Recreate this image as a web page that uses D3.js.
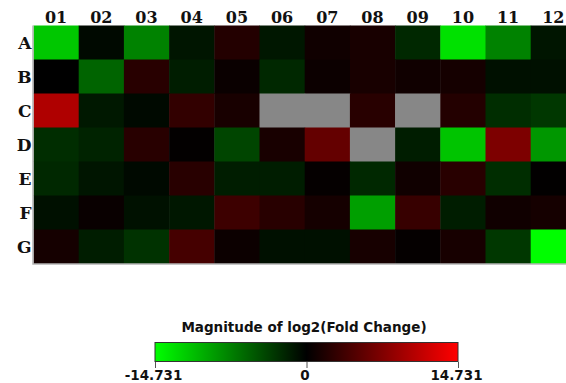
<!DOCTYPE html>
<html>
<head>
<meta charset="utf-8">
<script src="https://cdn.jsdelivr.net/npm/d3@7"></script>
<style>
  body { margin: 0; background: #fff; }
  svg { display: block; }
</style>
</head>
<body>
<div id="chart"></div>
<script>
// Plate layout: rows A-G, columns 01-12
const rows = ['A', 'B', 'C', 'D', 'E', 'F', 'G'];
const cols = ['01', '02', '03', '04', '05', '06', '07', '08', '09', '10', '11', '12'];

// log2(fold change) per well, null = no value (grey)
const rowA = [-11.5, -0.5, -7.5, -1.2, 2.0, -1.3, 0.9, 1.4, -2.3, -13.0, -7.5, -1.2];
const rowB = [0.0, -5.8, 2.3, -1.7, 0.6, -2.3, 0.7, 1.4, 0.9, 1.2, -0.9, -0.9];
const rowC = [10.1, -1.4, -0.5, 2.9, 1.4, null, null, 2.3, null, 2.0, -2.6, -3.2];
const rowD = [-2.6, -2.0, 2.3, 0.2, -4.0, 1.4, 5.8, null, -1.7, -11.3, 7.2, -8.7];
const rowE = [-2.3, -1.2, -0.5, 2.3, -1.7, -1.7, 0.3, -2.3, 0.9, 2.3, -2.6, 0.1];
const rowF = [-0.9, 0.5, -1.0, -1.3, 3.5, 2.3, 1.2, -9.2, 3.2, -1.7, 0.9, 1.2];
const rowG = [1.2, -1.7, -2.9, 4.0, 0.7, -0.9, -0.9, 1.3, 0.3, 1.3, -3.2, -14.7];
const wellValues = [rowA, rowB, rowC, rowD, rowE, rowF, rowG];

const maxAbs = 14.731;
const legendTicks = [-14.731, 0, 14.731];
const legendTitle = 'Magnitude of log2(Fold Change)';

const width = 566, height = 383;

const svg = d3.select('#chart').append('svg')
  .attr('width', width)
  .attr('height', height);

const color = d3.scaleLinear()
  .domain([-maxAbs, 0, maxAbs])
  .range(['#00ff00', '#000000', '#ff0000'])
  .clamp(true);

// grid runs past the right edge of the window, like the original
const x = d3.scaleBand().domain(cols).range([33.5, 33.5 + 12 * 45.2]);
const y = d3.scaleBand().domain(rows).range([25.5, 263.5]);

const cells = [];
rows.forEach((r, i) => {
  cols.forEach((c, j) => {
    cells.push({ row: r, col: c, value: wellValues[i][j] });
  });
});

svg.append('g')
  .selectAll('rect')
  .data(cells)
  .join('rect')
  .attr('x', d => x(d.col))
  .attr('y', d => y(d.row))
  .attr('width', x.bandwidth() + 0.5)
  .attr('height', y.bandwidth() + 0.5)
  .attr('fill', d => d.value === null ? '#878787' : color(d.value));

// light frame on the left and bottom of the grid
svg.append('path')
  .attr('d', `M${x.range()[0] - 0.5},${y.range()[0]}V${y.range()[1] + 0.5}H${width}`)
  .attr('fill', 'none')
  .attr('stroke', '#b4b4b4')
  .attr('stroke-width', 1.5);

// column labels
svg.append('g')
  .selectAll('text')
  .data(cols)
  .join('text')
  .attr('x', d => x(d) + x.bandwidth() / 2)
  .attr('y', 23)
  .attr('text-anchor', 'middle')
  .style('font-family', '"DejaVu Serif", serif')
  .style('font-weight', 'bold')
  .style('font-size', '16px')
  .style('fill', '#111')
  .text(d => d);

// row labels
svg.append('g')
  .selectAll('text')
  .data(rows)
  .join('text')
  .attr('x', 31.5)
  .attr('y', d => y(d) + y.bandwidth() / 2)
  .attr('dy', '0.36em')
  .attr('text-anchor', 'end')
  .style('font-family', '"DejaVu Serif", serif')
  .style('font-weight', 'bold')
  .style('font-size', '17px')
  .style('fill', '#111')
  .text(d => d);

// legend
const legendX = d3.scaleLinear().domain([-maxAbs, maxAbs]).range([155, 458]);

const defs = svg.append('defs');
const grad = defs.append('linearGradient')
  .attr('id', 'fc-grad')
  .attr('x1', '0%').attr('x2', '100%');
grad.selectAll('stop')
  .data(d3.range(0, 1.0001, 0.1))
  .join('stop')
  .attr('offset', d => `${d * 100}%`)
  .attr('stop-color', d => color(-maxAbs + d * 2 * maxAbs));

svg.append('text')
  .attr('x', 304)
  .attr('y', 332)
  .attr('text-anchor', 'middle')
  .style('font-family', '"DejaVu Sans", sans-serif')
  .style('font-weight', 'bold')
  .style('font-size', '13.5px')
  .style('fill', '#111')
  .text(legendTitle);

svg.append('rect')
  .attr('x', legendX.range()[0])
  .attr('y', 342.5)
  .attr('width', legendX.range()[1] - legendX.range()[0])
  .attr('height', 19)
  .attr('fill', 'url(#fc-grad)')
  .attr('stroke', '#333')
  .attr('stroke-width', 1);

const legendAxis = d3.axisBottom(legendX)
  .tickValues(legendTicks)
  .tickFormat(d => d === 0 ? '0' : d.toFixed(3))
  .tickSize(6)
  .tickPadding(2);

const axisG = svg.append('g')
  .attr('transform', 'translate(0,362)')
  .call(legendAxis);
axisG.select('.domain').remove();
axisG.selectAll('.tick line').attr('stroke', '#555');
axisG.selectAll('.tick text')
  .attr('dx', -2)
  .style('font-family', '"DejaVu Sans", sans-serif')
  .style('font-weight', 'bold')
  .style('font-size', '13.5px')
  .style('fill', '#111');
</script>
</body>
</html>
